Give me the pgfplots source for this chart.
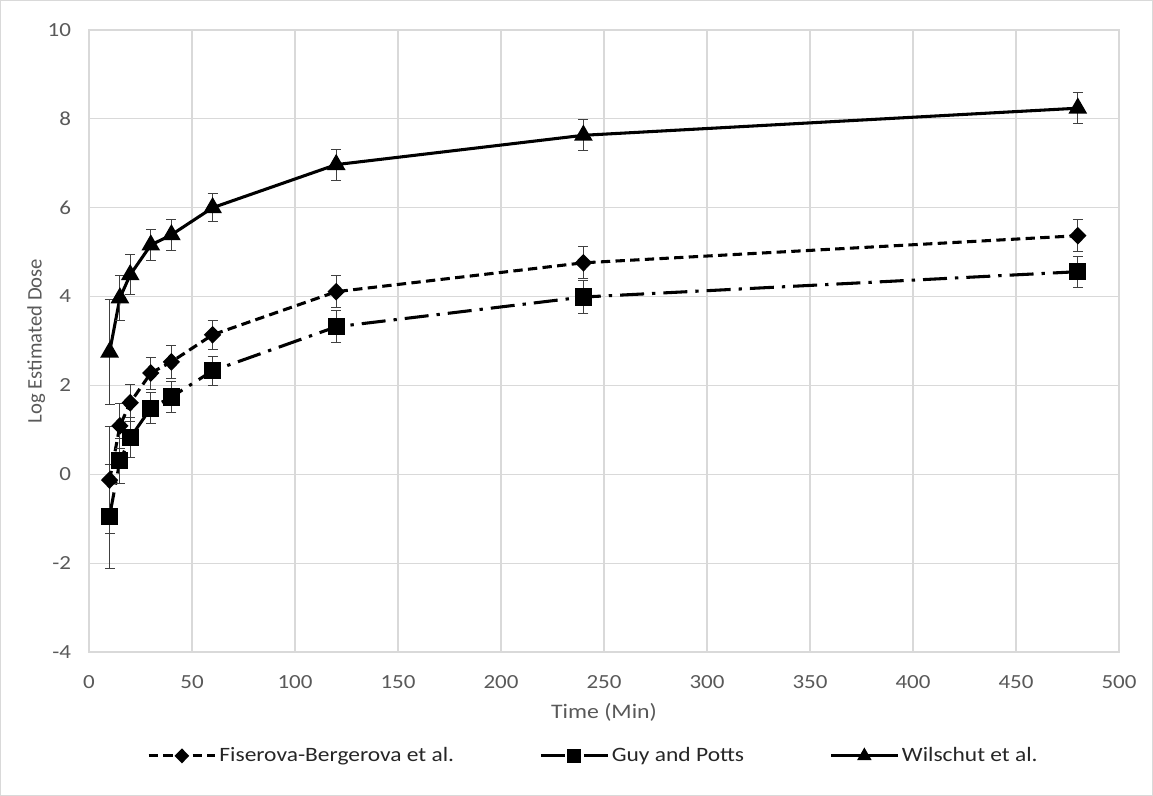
\documentclass[border=0pt]{standalone}
\usepackage{pgfplots}
\pgfplotsset{compat=1.18}
\usepackage{fontspec}
\setmainfont{Carlito}
\newfontfamily\wide[FakeStretch=1.15]{Carlito}
\definecolor{txtgray}{HTML}{595959}
\definecolor{legtxt}{HTML}{262626}
\definecolor{gridgray}{HTML}{D9D9D9}
\definecolor{errgray}{HTML}{404040}
\begin{document}
\begin{tikzpicture}
\begin{axis}[
  scale only axis,
  width=772.5pt, height=466.5pt,
  xmin=0, xmax=500, ymin=-4, ymax=10,
  xtick={0,50,...,500}, ytick={-4,-2,...,10},
  grid=major,
  major grid style={gridgray, line width=0.8pt},
  axis line style={gridgray, line width=0.8pt},
  tick style={draw=none},
  ticklabel style={font=\wide\fontsize{15}{18}\selectfont, text=txtgray},
  /pgf/number format/assume math mode=true,
  xticklabel style={yshift=-14pt},
  yticklabel style={xshift=-10pt},
  xlabel={Time (Min)}, ylabel={Log Estimated Dose},
  xlabel style={font=\wide\fontsize{15.5}{18}\selectfont, text=txtgray, yshift=-4pt},
  ylabel style={font=\fontsize{15.5}{18}\selectfont, text=txtgray, yshift=-5pt},
  legend columns=3,
  legend style={at={(0.49,-0.167)}, anchor=center, draw=none, fill=none,
    font=\wide\fontsize{15.3}{18}\selectfont, text=legtxt,
    /tikz/every even column/.append style={column sep=62pt},
    /tikz/every odd column/.append style={column sep=0pt},
    /tikz/every node/.append style={inner xsep=2pt}},
  legend image code/.code={
    \draw[#1] (0pt,0pt) -- (50pt,0pt);
    \draw[#1, mark size=4pt, solid] plot coordinates {(25pt,0pt)};
  },
  clip=false,
]
\addplot[black, line width=2.3pt, dash pattern=on 7pt off 4pt,
  mark=diamond*, mark size=5pt, mark options={solid, fill=black, xscale=1.3},
  error bars/.cd, y dir=both, y explicit,
  error bar style={errgray, line width=0.7pt, solid},
  error mark options={rotate=90, mark size=3.75pt, errgray, line width=0.7pt}]
  table[x=x, y=y, y error=e] {
x y e
10 -0.13 1.20
15 1.09 0.50
20 1.61 0.42
30 2.28 0.36
40 2.53 0.37
60 3.14 0.33
120 4.11 0.36
240 4.76 0.36
480 5.37 0.36
};
\addlegendentry{Fiserova-Bergerova et al.}
\addplot[black, line width=2.3pt, dash pattern=on 18pt off 6pt on 2.5pt off 6pt,
  mark=square*, mark size=5.25pt, mark options={solid, fill=black},
  error bars/.cd, y dir=both, y explicit,
  error bar style={errgray, line width=0.7pt, solid},
  error mark options={rotate=90, mark size=3.75pt, errgray, line width=0.7pt}]
  table[x=x, y=y, y error=e] {
x y e
10 -0.94 1.17
15 0.30 0.50
20 0.82 0.45
30 1.49 0.35
40 1.74 0.35
60 2.33 0.33
120 3.32 0.36
240 3.99 0.37
480 4.56 0.35
};
\addlegendentry{Guy and Potts}
\addplot[black, line width=2.3pt,
  mark=triangle*, mark size=5.8pt, mark options={solid, fill=black},
  error bars/.cd, y dir=both, y explicit,
  error bar style={errgray, line width=0.7pt, solid},
  error mark options={rotate=90, mark size=3.75pt, errgray, line width=0.7pt}]
  table[x=x, y=y, y error=e] {
x y e
10 2.75 1.18
15 3.97 0.50
20 4.49 0.45
30 5.16 0.35
40 5.39 0.35
60 6.00 0.32
120 6.97 0.35
240 7.63 0.35
480 8.24 0.35
};
\addlegendentry{Wilschut et al.}
\end{axis}
\draw[gridgray, line width=0.8pt] ([shift={(-66.35pt,-107.6pt)}]current axis.south west) rectangle ([shift={(25.1pt,22.1pt)}]current axis.north east);
\end{tikzpicture}
\end{document}
